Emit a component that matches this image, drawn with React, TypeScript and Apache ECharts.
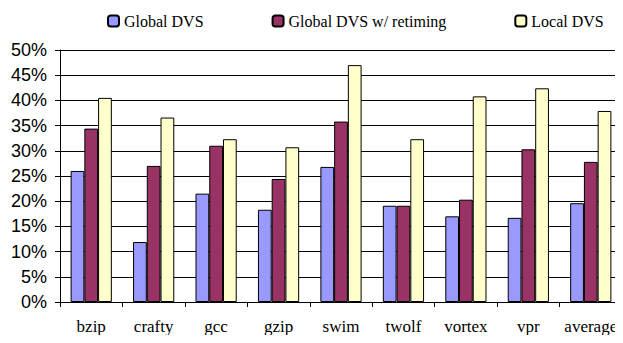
import React, { useEffect, useRef } from "react";
import * as echarts from "echarts";

const categories = ["bzip", "crafty", "gcc", "gzip", "swim", "twolf", "vortex", "vpr", "average"];
const globalDVS = [26.0, 11.9, 21.5, 18.3, 26.8, 19.1, 17.0, 16.7, 19.6];
const globalDVSRetiming = [34.4, 27.0, 31.0, 24.4, 35.8, 19.1, 20.3, 30.3, 27.8];
const localDVS = [40.5, 36.6, 32.3, 30.7, 47.0, 32.3, 40.8, 42.4, 37.9];
const seriesNames = ["Global DVS", "Global DVS w/ retiming", "Local DVS"];
const yTicks = [0, 5, 10, 15, 20, 25, 30, 35, 40, 45, 50];

const SERIF = "Liberation Serif";
const SANS = "Liberation Sans";

export default function App() {
  const ref = useRef<HTMLDivElement>(null);
  useEffect(() => {
    if (!ref.current) return;
    const chart = echarts.init(ref.current, undefined, { renderer: "svg" });
    const colors = ["#9999FF", "#993366", "#FFFFCC"];
    const datasets = [globalDVS, globalDVSRetiming, localDVS];
    chart.setOption({
      animation: false,
      legend: {
        left: 102,
        top: 8,
        itemWidth: 11,
        itemHeight: 11,
        itemGap: 68,
        textStyle: { fontFamily: SERIF, fontSize: 16, color: "#000" },
        data: seriesNames,
      },
      grid: { left: 60, right: 1, top: 50, bottom: 41, containLabel: false },
      xAxis: {
        type: "category",
        data: categories,
        axisLine: { lineStyle: { color: "#000", width: 1 } },
        axisTick: { show: true, length: 5, lineStyle: { color: "#000" } },
        axisLabel: { fontFamily: SERIF, fontSize: 17, color: "#000", margin: 16, interval: 0 },
      },
      yAxis: {
        type: "value",
        min: yTicks[0],
        max: yTicks[yTicks.length - 1],
        interval: 5,
        axisLine: { show: true, lineStyle: { color: "#000", width: 1 } },
        axisTick: { show: true, length: 5, lineStyle: { color: "#000" } },
        axisLabel: {
          fontFamily: SANS,
          fontSize: 18,
          color: "#000",
          margin: 13,
          formatter: (v: number) => v + "%",
        },
        splitLine: { show: true, lineStyle: { color: "#000", width: 1 } },
      },
      series: datasets.map((d, i) => ({
        name: seriesNames[i],
        type: "bar",
        data: d,
        barGap: "0%",
        barCategoryGap: "34%",
        itemStyle: { color: colors[i], borderColor: "#000", borderWidth: 1 },
      })),
    });
    return () => chart.dispose();
  }, []);
  return <div ref={ref} style={{ width: 623, height: 343, margin: -8 }} />;
}
